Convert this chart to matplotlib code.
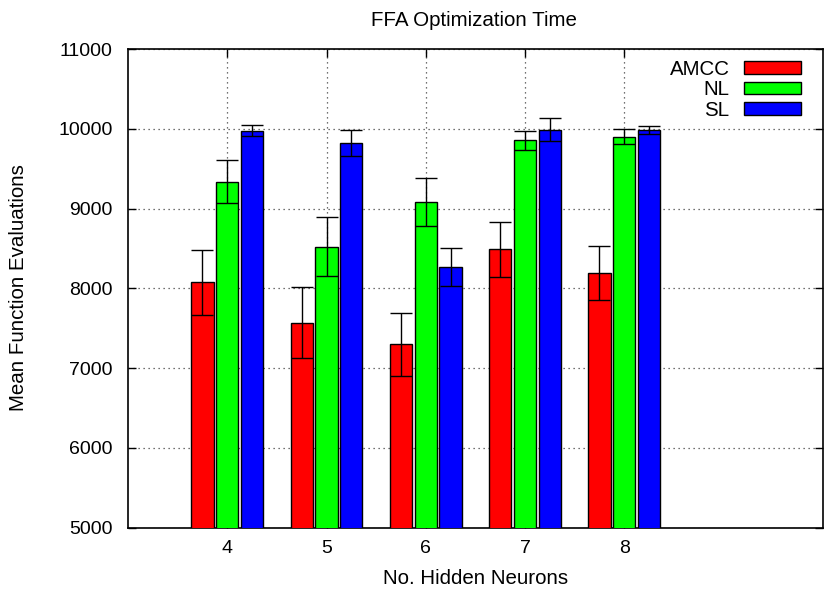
import matplotlib
matplotlib.use("Agg")
import matplotlib.pyplot as plt
import numpy as np

plt.rcParams['font.family'] = ['Liberation Sans', 'DejaVu Sans']

neurons = [4, 5, 6, 7, 8]
series = ["AMCC", "NL", "SL"]
amcc = [8075, 7568, 7297, 8488, 8187]
amcc_err = [410, 445, 395, 342, 340]
nl = [9336, 8521, 9078, 9855, 9900]
nl_err = [270, 368, 300, 117, 95]
sl = [9976, 9821, 8266, 9988, 9981]
sl_err = [66, 167, 243, 146, 50]
colors = ["#ff0000", "#00ff00", "#0000ff"]
yticks = [5000, 6000, 7000, 8000, 9000, 10000, 11000]

FS = 14
FL = 14.8

fig = plt.figure(figsize=(8.26, 5.91), dpi=100)
ax = fig.add_axes([0.155, 0.1074, 0.841, 0.8096])

x = np.array(neurons, dtype=float)
offsets = [-0.25, 0.0, 0.25]
vals = [amcc, nl, sl]
errs = [amcc_err, nl_err, sl_err]
handles = []
for i in range(3):
    b = ax.bar(x + offsets[i], vals[i], width=0.225, bottom=0, color=colors[i],
               edgecolor="black", linewidth=1.0, zorder=3, label=series[i])
    ax.errorbar(x + offsets[i], vals[i], yerr=errs[i], fmt='none', ecolor='black',
                elinewidth=1.0, capsize=8, capthick=1.0, zorder=4)
    handles.append(b)

ax.set_xlim(3, 10)
ax.set_ylim(5000, 11000)
ax.set_xticks(neurons)
ax.set_yticks(yticks)
ax.tick_params(direction='in', top=True, right=True, length=6, width=1, labelsize=FS)
ax.tick_params(axis='x', pad=9)
ax.tick_params(axis='y', pad=11)
ax.grid(True, linestyle=(0, (1, 3)), color='#444444', linewidth=0.9, zorder=0)
for s in ax.spines.values():
    s.set_linewidth(1.2)

fig.text(474 / 826, 1 - 20 / 591, "FFA Optimization Time", fontsize=FL,
         ha='center', va='center')
fig.text(476 / 826, 1 - 578 / 591, "No. Hidden Neurons", fontsize=FL,
         ha='center', va='center')
fig.text(19 / 826, 1 - 287.5 / 591, "Mean Function Evaluations", fontsize=FL,
         ha='center', va='center', rotation=90)

leg = ax.legend(handles=handles, loc='upper right', frameon=False, fontsize=FL,
                markerfirst=False, handlelength=2.8, handleheight=0.55,
                labelspacing=0.08, borderpad=0, borderaxespad=0,
                handletextpad=0.68, bbox_to_anchor=(0.969, 0.978))
for t in leg.get_texts():
    t.set_ha('right')

fig.savefig("out.png", dpi=100)
